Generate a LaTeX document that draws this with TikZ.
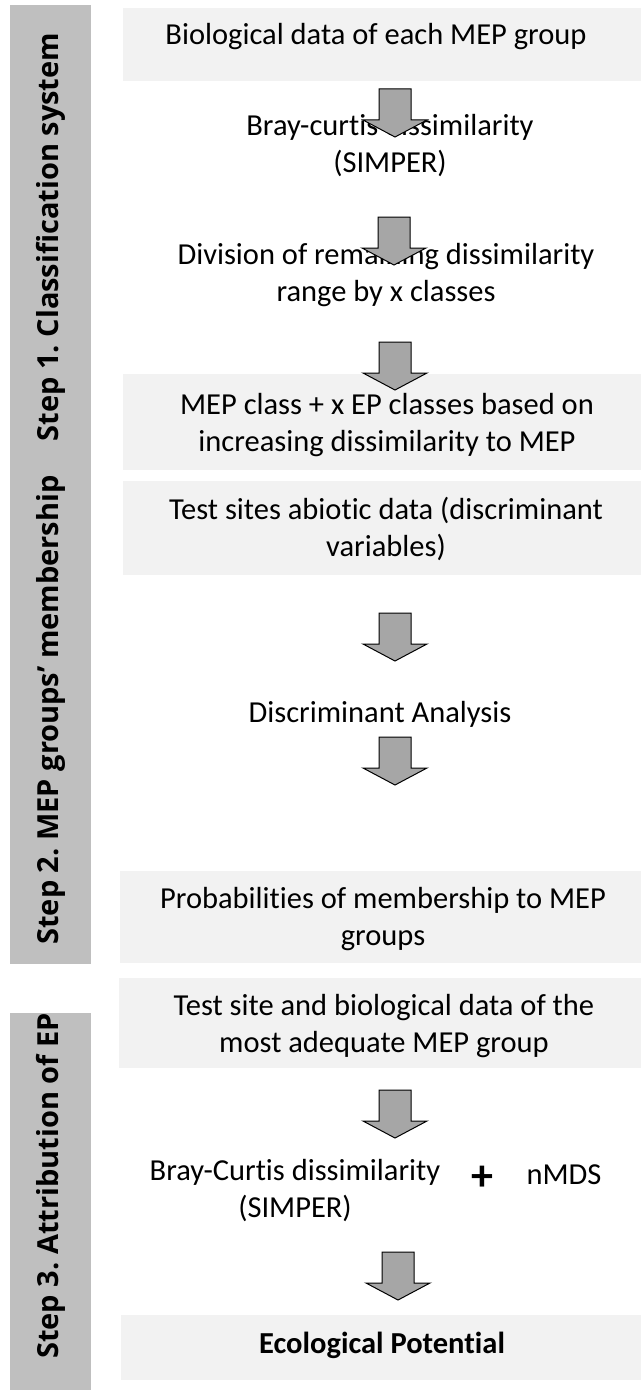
\documentclass[tikz,border=0pt]{standalone}
\usepackage{fontspec}
\setmainfont{Carlito}[Ligatures=NoCommon]
\newfontfamily\sidefont{Open Sans}
\frenchspacing
\definecolor{sidegray}{HTML}{BFBFBF}
\definecolor{boxgray}{HTML}{F2F2F2}
\definecolor{arrowgray}{HTML}{A6A6A6}
\tikzset{
  sidebar/.style={fill=sidegray, draw=none},
  boxbg/.style={fill=boxgray, draw=none, inner sep=0pt},
  txt/.style={align=center, inner sep=0pt, font=\fontsize{30.5}{37}\selectfont},
  sidetxt/.style={rotate=90, inner sep=0pt, font=\sidefont\bfseries\fontsize{29}{32}\selectfont},
  blockarrow/.pic={\draw[fill=arrowgray, line width=1pt, line join=miter]
     (-16,0) -- (16,0) -- (16,31) -- (32,31) -- (0,48) -- (-32,31) -- (-16,31) -- cycle;}
}
\begin{document}
\begin{tikzpicture}[x=1pt,y=-1pt]
\useasboundingbox (0,0) rectangle (641,1391);
% sidebars
\fill[sidebar] (10,5) rectangle (91,464);
\fill[sidebar] (10,464) rectangle (91,964);
\fill[sidebar] (10,1013) rectangle (91,1390);
\node[sidetxt] (s1) at (51,237) {Step 1. Classification system};
\node[sidetxt] (s2) at (51,710) {Step 2. MEP groups’ membership};
\node[sidetxt] (s3) at (51,1186) {Step 3. Attribution of EP};
% boxes
\node[boxbg, minimum width=518pt, minimum height=73pt] (b1) at (382,44.5) {};
\node[boxbg, minimum width=518pt, minimum height=96pt] (b4) at (382,422) {};
\node[boxbg, minimum width=518pt, minimum height=94pt] (b5) at (382,528) {};
\node[boxbg, minimum width=521pt, minimum height=92pt] (b6) at (380.5,917) {};
\node[boxbg, minimum width=522pt, minimum height=90pt] (b7) at (380,1023) {};
\node[boxbg, minimum width=520pt, minimum height=65pt] (b8) at (381,1347.5) {};
% texts
\node[txt] (t1) at (376,37) {Biological data of each MEP group};
\node[txt] (t2) at (390,146) {Bray-curtis dissimilarity\\(SIMPER)};
\node[txt] (t3) at (386,275) {Division of remaining dissimilarity\\range by x classes};
\node[txt] (t4) at (387,425) {MEP class + x EP classes based on\\increasing dissimilarity to MEP};
\node[txt] (t5) at (386,528.5) {Test sites abiotic data (discriminant\\variables)};
\node[txt] (t6) at (380,714) {Discriminant Analysis};
\node[txt] (t7) at (383,919) {Probabilities of membership to MEP\\groups};
\node[txt] (t8) at (384,1026.5) {Test site and biological data of the\\most adequate MEP group};
\node[txt] (t9) at (295,1190.5) {Bray-Curtis dissimilarity\\(SIMPER)};
\node[txt, font=\bfseries\fontsize{44}{44}\selectfont] (plus) at (482,1178) {+};
\node[txt] (t10) at (564,1175) {nMDS};
\node[txt, font=\bfseries\fontsize{30.5}{37}\selectfont] (t11) at (382,1345) {Ecological Potential};
% block arrows
\pic at (395,89) {blockarrow};
\pic at (394,217) {blockarrow};
\pic at (395,342) {blockarrow};
\pic at (395,613) {blockarrow};
\pic at (395,737) {blockarrow};
\pic at (395,1090) {blockarrow};
\pic at (398,1252) {blockarrow};
\end{tikzpicture}
\end{document}
